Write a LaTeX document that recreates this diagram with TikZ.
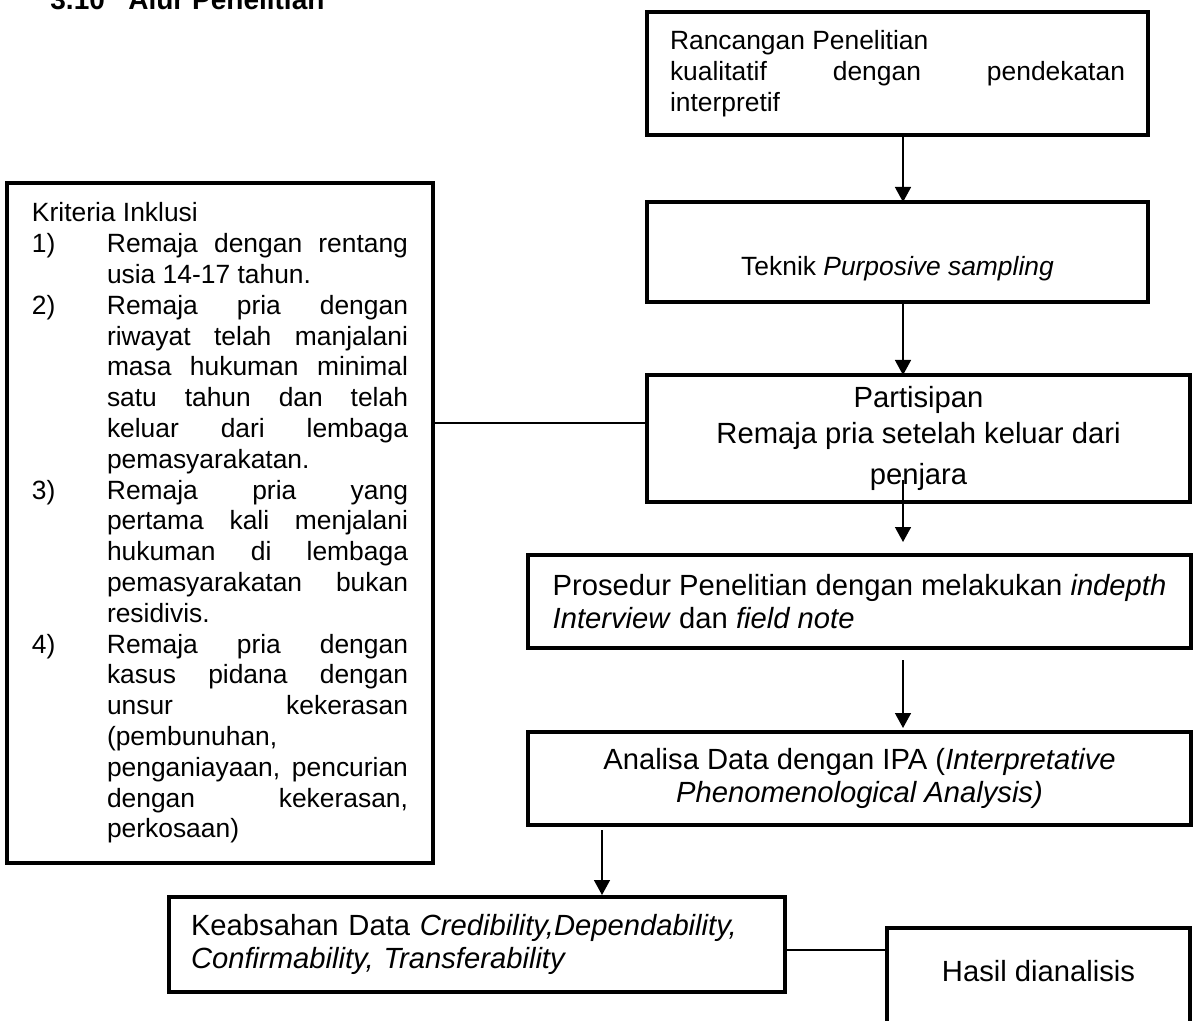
\documentclass[tikz,border=0pt]{standalone}
\usepackage{fontspec}
\setmainfont{Liberation Sans}
\usetikzlibrary{arrows.meta,positioning}
\tolerance=9999
\hbadness=10000

\newcommand{\butir}[2]{\par\hangindent=37.5pt\hangafter=1\noindent\makebox[37.5pt][l]{#1}#2\par}

\tikzset{
  box/.style = {draw, line width=2pt, inner sep=0pt, outer sep=0pt},
  kecil/.style = {font=\fontsize{13.2}{15.4}\selectfont},
  besar/.style = {font=\fontsize{14.6}{16.8}\selectfont},
  flow/.style = {line width=0.75pt, -{Triangle[width=8pt,length=7.5pt]}},
  link/.style = {line width=0.75pt}
}

\begin{document}
\begin{tikzpicture}[x=0.5pt, y=-0.5pt]
  \useasboundingbox (0,0) rectangle (1193,1021);
  \node [anchor=base west, inner sep=0pt, font=\fontsize{14}{16}\selectfont\bfseries] (judul) at (50,10) {3.10\hspace{11.75pt}Alur Penelitian};
  % kolom kiri
  \node [box, kecil, minimum width=213pt, minimum height=340pt, text width=188pt, align=justify] (kriteria) at (220,523) {%
    Kriteria Inklusi\par
    \butir{1)}{Remaja dengan rentang\linebreak usia 14-17 tahun.}
    \butir{2)}{Remaja pria dengan\linebreak riwayat telah manjalani\linebreak masa hukuman minimal\linebreak satu tahun dan telah\linebreak keluar dari lembaga\linebreak pemasyarakatan.}
    \butir{3)}{Remaja pria yang\linebreak pertama kali menjalani\linebreak hukuman di lembaga\linebreak pemasyarakatan bukan\linebreak residivis.}
    \butir{4)}{Remaja pria dengan\linebreak kasus pidana dengan\linebreak unsur kekerasan\linebreak (pembunuhan,\linebreak penganiayaan, pencurian\linebreak dengan kekerasan,\linebreak perkosaan)}};
  % alur utama
  \node [box, kecil, minimum width=250.5pt, minimum height=61.5pt, text width=227.5pt, align=justify] (rancangan) at (897.5,73.5) {Rancangan Penelitian\par kualitatif dengan pendekatan\linebreak interpretif};
  \node [box, kecil, minimum width=250.5pt, minimum height=50pt, text height=24pt, text depth=0pt] (teknik) at (897.5,252) {Teknik \textit{Purposive sampling}};
  \node [box, besar, minimum width=271.5pt, minimum height=63.5pt, align=center] (partisipan) at (918.5,438.5) {Partisipan\\[1pt] Remaja pria setelah keluar dari\\[3.5pt] penjara};
  \node [box, besar, minimum width=331.5pt, minimum height=46.5pt, align=left] (prosedur) at (859.5,601.5) {Prosedur Penelitian dengan melakukan \textit{indepth}\\ \textit{Interview} dan \textit{field note}};
  \node [box, besar, minimum width=331.5pt, minimum height=46.5pt, align=center] (analisa) at (859.5,778.5) {Analisa Data dengan IPA (\textit{Interpretative}\\ \textit{Phenomenological Analysis)}};
  \node [box, besar, minimum width=308pt, minimum height=47.5pt, text width=286pt, align=left] (keabsahan) at (477,944.5) {Keabsahan Data \textit{Credibility,Dependability,}\\ \textit{Confirmability, Transferability}};
  \node [box, besar, anchor=north, minimum width=151.5pt, text height=26.75pt, text depth=40pt] (hasil) at (1038.5,928) {Hasil dianalisis};
  % penghubung
  \coordinate (sumbu) at (903,0);
  \coordinate (sumbub) at (602,0);
  \coordinate (hub) at (540,423);
  \coordinate (hubb) at (836,950);
  \draw [flow] (rancangan.south -| sumbu) -- (teknik.north -| sumbu);
  \draw [flow] (teknik.south -| sumbu) -- (partisipan.north -| sumbu);
  \draw [flow, shorten <=-11pt, shorten >=6.5pt] (partisipan.south -| sumbu) -- (prosedur.north -| sumbu);
  \draw [flow, shorten <=6pt, shorten >=2pt] (prosedur.south -| sumbu) -- (analisa.north -| sumbu);
  \draw [flow, shorten <=2.5pt, shorten >=1pt] (analisa.south -| sumbub) -- (keabsahan.north -| sumbub);
  \draw [link] (kriteria.east |- hub) -- (partisipan.west |- hub);
  \draw [link] (keabsahan.east |- hubb) -- (hasil.west |- hubb);
\end{tikzpicture}
\end{document}
